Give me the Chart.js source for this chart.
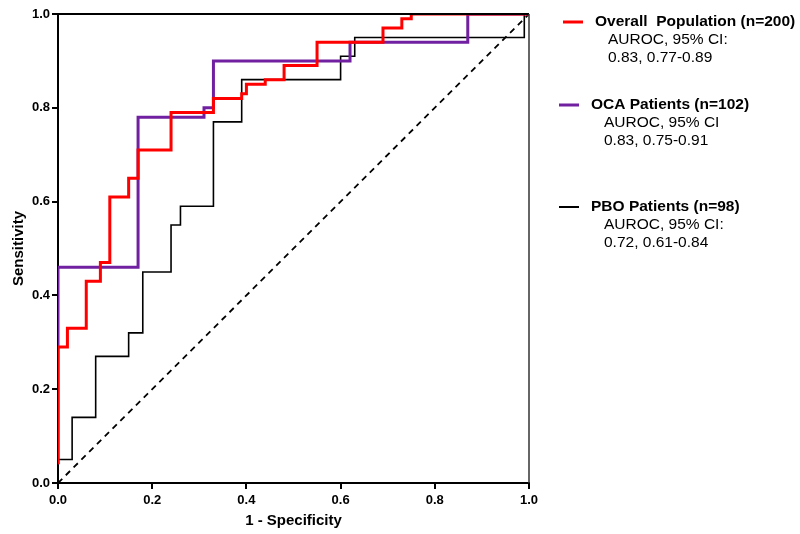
<!DOCTYPE html>
<html>
<head>
<meta charset="utf-8">
<script src="https://cdn.jsdelivr.net/npm/chart.js@4"></script>
<style>
  html, body { margin: 0; padding: 0; background: #fff; }
  #wrap { width: 800px; height: 534px; position: relative; }
</style>
</head>
<body>
<div id="wrap"><canvas id="roc" width="800" height="534"></canvas></div>
<script>
// ROC corner points (1 - specificity, sensitivity)
let overallFpr = [0, 0, 0.02, 0.06, 0.09, 0.11, 0.15, 0.17, 0.24, 0.33, 0.39, 0.40, 0.44, 0.48, 0.55, 0.69, 0.73, 0.75, 1.0]
let overallTpr = [0.04, 0.29, 0.33, 0.43, 0.47, 0.61, 0.65, 0.71, 0.79, 0.82, 0.83, 0.85, 0.86, 0.89, 0.94, 0.97, 0.99, 1.0, 1.0]

let ocaFpr = [0, 0, 0.17, 0.31, 0.33, 0.62, 0.87, 1.0]
let ocaTpr = [0.04, 0.46, 0.78, 0.80, 0.90, 0.94, 1.0, 1.0]

let pboFpr = [0, 0, 0.03, 0.08, 0.15, 0.18, 0.24, 0.26, 0.33, 0.39, 0.60, 0.63, 0.99, 1.0]
let pboTpr = [0, 0.05, 0.14, 0.27, 0.32, 0.45, 0.55, 0.59, 0.77, 0.86, 0.91, 0.95, 1.0, 1.0]

let refX = [0, 1]
let refY = [0, 1]

let seriesNames = ['Overall  Population (n=200)', 'OCA Patients (n=102)', 'PBO Patients (n=98)']
let aurocHeads = ['AUROC, 95% CI:', 'AUROC, 95% CI', 'AUROC, 95% CI:']
let aurocValues = ['0.83, 0.77-0.89', '0.83, 0.75-0.91', '0.72, 0.61-0.84']
let seriesColors = ['#ff0000', '#7020a0', '#000000']

function toPoints(xs, ys) {
  return xs.map((x, i) => ({ x: x, y: ys[i] }))
}

const FONT = '"Liberation Sans", Arial, sans-serif'

// top + right frame lines
const frame = {
  id: 'frame',
  afterDatasetsDraw(chart) {
    const { ctx, chartArea: a } = chart
    ctx.save()
    ctx.strokeStyle = '#000'
    ctx.lineWidth = 2
    ctx.beginPath()
    ctx.moveTo(a.left, a.top)
    ctx.lineTo(a.right, a.top)
    ctx.stroke()
    ctx.strokeStyle = '#333'
    ctx.lineWidth = 1.5
    ctx.beginPath()
    ctx.moveTo(a.right, a.top)
    ctx.lineTo(a.right, a.bottom)
    ctx.stroke()
    ctx.restore()
  }
}

// legend with AUROC notes on the right
const sideLegend = {
  id: 'sideLegend',
  afterDraw(chart) {
    const ctx = chart.ctx
    const rows = [
      { y: 22, lx: 563, tx: 595, sx: 608 },
      { y: 105, lx: 559, tx: 591, sx: 604 },
      { y: 207, lx: 559, tx: 591, sx: 604 }
    ]
    ctx.save()
    ctx.textBaseline = 'middle'
    ctx.textAlign = 'left'
    rows.forEach((r, i) => {
      ctx.strokeStyle = seriesColors[i]
      ctx.lineWidth = i == 2 ? 2 : 3
      ctx.beginPath()
      ctx.moveTo(r.lx, r.y)
      ctx.lineTo(r.lx + 20, r.y)
      ctx.stroke()
      ctx.fillStyle = '#000'
      ctx.font = 'bold 15.5px ' + FONT
      ctx.fillText(seriesNames[i], r.tx, r.y)
      ctx.font = '15.5px ' + FONT
      ctx.fillText(aurocHeads[i], r.sx, r.y + 18)
      ctx.fillText(aurocValues[i], r.sx, r.y + 36)
    })
    ctx.restore()
  }
}

let rocChart = new Chart(document.getElementById('roc').getContext('2d'), {
  type: 'scatter',
  data: {
    datasets: [
      { data: toPoints(overallFpr, overallTpr), borderColor: seriesColors[0], borderWidth: 3, stepped: 'before', order: 0 },
      { data: toPoints(ocaFpr, ocaTpr), borderColor: seriesColors[1], borderWidth: 3, stepped: 'before', order: 1 },
      { data: toPoints(pboFpr, pboTpr), borderColor: seriesColors[2], borderWidth: 1.6, stepped: 'before', order: 2 },
      { data: toPoints(refX, refY), borderColor: '#000', borderWidth: 1.8, borderDash: [6, 5], order: 3 }
    ]
  },
  options: {
    responsive: false,
    animation: false,
    showLine: true,
    elements: { point: { radius: 0, hoverRadius: 0 }, line: { tension: 0, fill: false } },
    layout: { padding: { left: 0, top: 14, right: 271, bottom: 0 } },
    plugins: { legend: { display: false }, tooltip: { enabled: false } },
    scales: {
      x: {
        type: 'linear', min: 0, max: 1,
        afterFit: s => { s.height = 51 },
        ticks: { stepSize: 0.2, callback: v => v.toFixed(1), color: '#000', font: { family: FONT, size: 13, weight: 'bold' }, padding: 4, maxRotation: 0 },
        grid: { drawOnChartArea: false, drawTicks: true, tickLength: 6, color: '#000', lineWidth: 2 },
        border: { color: '#000', width: 2 },
        title: { display: true, text: '1 - Specificity', color: '#000', font: { family: FONT, size: 15, weight: 'bold' }, padding: { top: 0 } }
      },
      y: {
        type: 'linear', min: 0, max: 1,
        afterFit: s => { s.width = 58 },
        ticks: { stepSize: 0.2, callback: v => v.toFixed(1), color: '#000', font: { family: FONT, size: 13, weight: 'bold' }, padding: 2 },
        grid: { drawOnChartArea: false, drawTicks: true, tickLength: 6, color: '#000', lineWidth: 2 },
        border: { color: '#000', width: 2 },
        title: { display: true, text: 'Sensitivity', color: '#000', font: { family: FONT, size: 15, weight: 'bold' }, padding: { top: 10, bottom: 0 } }
      }
    }
  },
  plugins: [frame, sideLegend]
})
</script>
</body>
</html>
